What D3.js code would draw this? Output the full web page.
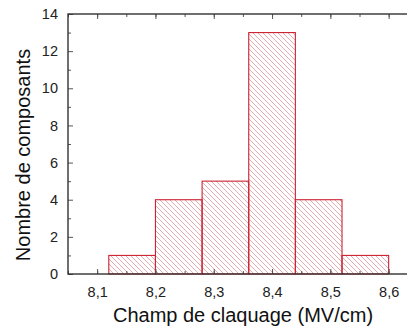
<!DOCTYPE html>
<html><head><meta charset="utf-8">
<script src="https://cdn.jsdelivr.net/npm/d3@7"></script>
<style>body{margin:0;background:#fff}svg{display:block}</style>
</head><body><svg id="c" width="407" height="331"></svg>
<script>
const binStarts = [8.12, 8.20, 8.28, 8.36, 8.44, 8.52];
const binEnds   = [8.20, 8.28, 8.36, 8.44, 8.52, 8.60];
const counts    = [1, 4, 5, 13, 4, 1];
const xTicks = [8.1, 8.2, 8.3, 8.4, 8.5, 8.6];
const yTicks = [0, 2, 4, 6, 8, 10, 12, 14];
const xLabel = "Champ de claquage (MV/cm)";
const yLabel = "Nombre de composants";

const svg = d3.select("#c");
const L = 68, T = 14, B = 274;
const x = d3.scaleLinear().domain([8.05, 8.65]).range([L, L + 0.6 * 583]);
const y = d3.scaleLinear().domain([0, 14]).range([B, T]);
const R = x(8.65);

const defs = svg.append("defs");
const pat = defs.append("pattern").attr("id", "hatch").attr("patternUnits", "userSpaceOnUse")
  .attr("width", 5).attr("height", 5);
pat.append("path").attr("d", "M-1,-1L6,6M-1,4L1,6M4,-1L6,1")
  .attr("stroke", "#c85560").attr("stroke-width", 0.7).attr("fill", "none").attr("opacity", 0.7);

const data = counts.map((c, i) => ({x0: binStarts[i], x1: binEnds[i], c}));
svg.append("g").selectAll("rect").data(data).join("rect")
  .attr("x", d => x(d.x0)).attr("y", d => y(d.c))
  .attr("width", d => x(d.x1) - x(d.x0)).attr("height", d => y(0) - y(d.c))
  .attr("fill", "url(#hatch)").attr("stroke", "#cc2233").attr("stroke-width", 1.1);

const axisCol = "#333";
function styleAxis(g) {
  g.select(".domain").remove();
  g.selectAll(".tick line").attr("stroke", "#555").attr("stroke-width", 1);
  g.selectAll("text").attr("font-family", "Liberation Sans, Arial, sans-serif").attr("font-size", 14.5).attr("fill", "#222");
}
const minorX = d3.range(8.05, 8.66, 0.05).map(v => +v.toFixed(2));
const minorY = d3.range(1, 14, 2);
const fmt = d => d3.format(".1f")(d).replace(".", ",");

// bottom
svg.append("g").attr("transform", `translate(0,${B})`)
  .call(d3.axisBottom(x).tickValues(minorX).tickSize(-3).tickFormat("")).call(styleAxis);
svg.append("g").attr("transform", `translate(0,${B})`)
  .call(d3.axisBottom(x).tickValues(xTicks).tickSize(-5).tickPadding(13).tickFormat(fmt)).call(styleAxis);
// top
svg.append("g").attr("transform", `translate(0,${T})`)
  .call(d3.axisTop(x).tickValues(minorX).tickSize(-3).tickFormat("")).call(styleAxis);
svg.append("g").attr("transform", `translate(0,${T})`)
  .call(d3.axisTop(x).tickValues(xTicks).tickSize(-5).tickFormat("")).call(styleAxis);
// left
svg.append("g").attr("transform", `translate(${L},0)`)
  .call(d3.axisLeft(y).tickValues(minorY).tickSize(-3).tickFormat("")).call(styleAxis);
svg.append("g").attr("transform", `translate(${L},0)`)
  .call(d3.axisLeft(y).tickValues(yTicks).tickSize(-5).tickPadding(10).tickFormat(d3.format("d"))).call(styleAxis);

// frame
svg.append("rect").attr("x", L).attr("y", T).attr("width", R - L).attr("height", B - T)
  .attr("fill", "none").attr("stroke", axisCol).attr("stroke-width", 1.4);

svg.append("text").attr("x", 243).attr("y", 322).attr("text-anchor", "middle")
  .attr("font-family", "Liberation Sans, Arial, sans-serif").attr("font-size", 20).attr("fill", "#111").text(xLabel);
svg.append("text").attr("transform", "translate(30,155) rotate(-90)").attr("text-anchor", "middle")
  .attr("font-family", "Liberation Sans, Arial, sans-serif").attr("font-size", 20).attr("fill", "#111").text(yLabel);
</script></body></html>
